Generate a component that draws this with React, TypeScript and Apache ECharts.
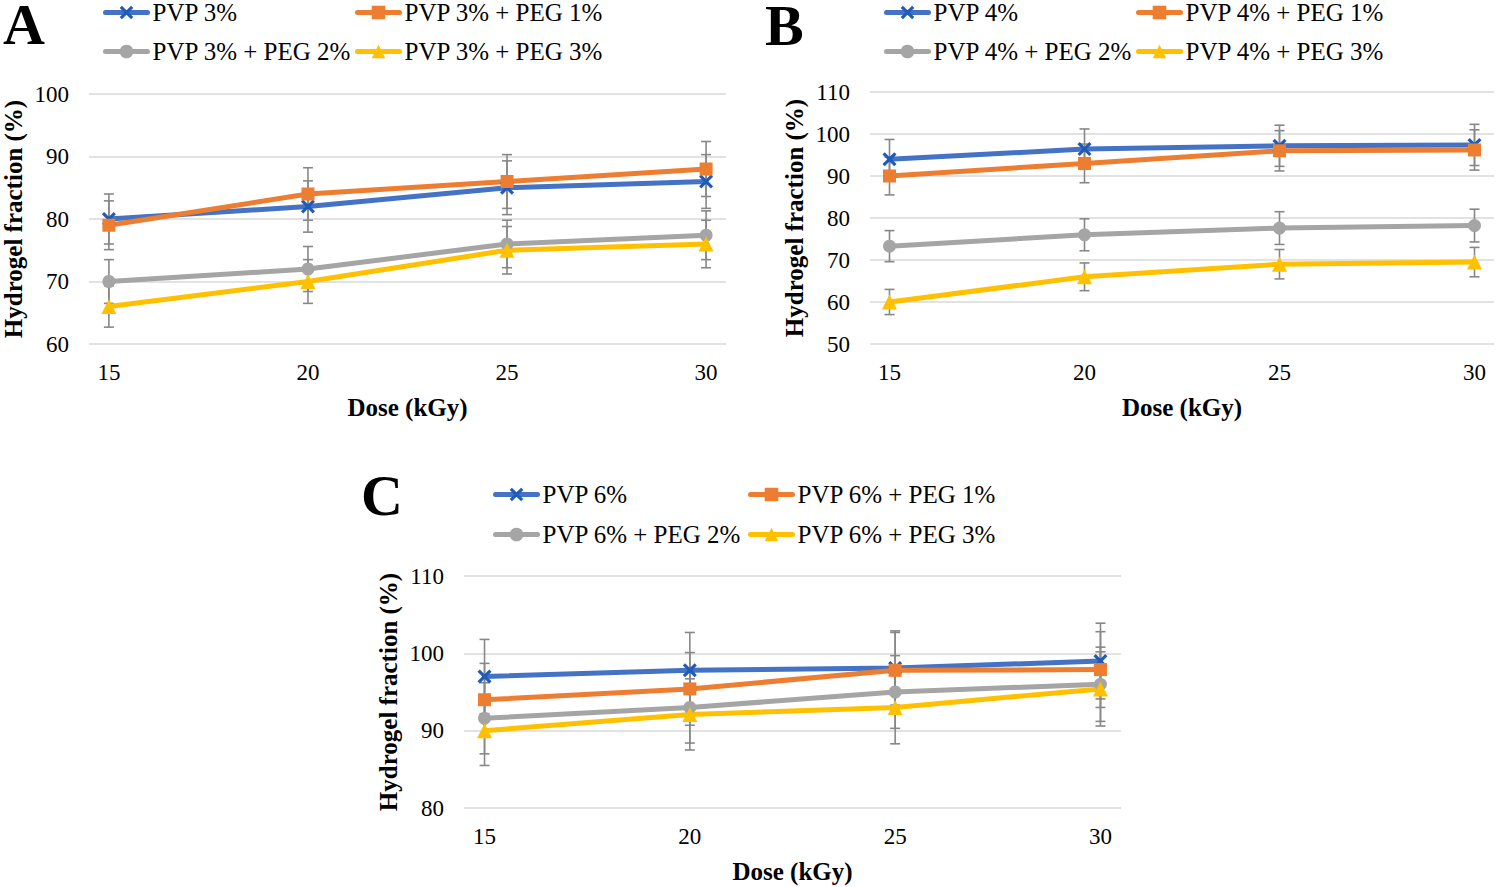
import React, { useEffect, useRef } from "react";
import * as echarts from "echarts";

const doses = [15, 20, 25, 30];
const xTicks = [15, 20, 25, 30];

// Panel A
const namesA = ["PVP 3%", "PVP 3% + PEG 1%", "PVP 3% + PEG 2%", "PVP 3% + PEG 3%"];
const a_pvp = [80, 82, 85, 86];
const a_peg1 = [79, 84, 86, 88];
const a_peg2 = [70, 72, 76, 77.4];
const a_peg3 = [66, 70, 75, 76];
const a_err_pvp = [4, 4.1, 4.3, 4.3];
const a_err_peg1 = [3.9, 4.2, 4.3, 4.4];
const a_err_peg2 = [3.5, 3.6, 3.8, 3.9];
const a_err_peg3 = [3.3, 3.5, 3.8, 3.8];

// Panel B
const namesB = ["PVP 4%", "PVP 4% + PEG 1%", "PVP 4% + PEG 2%", "PVP 4% + PEG 3%"];
const b_pvp = [94, 96.4, 97.2, 97.4];
const b_peg1 = [90, 93, 96, 96.2];
const b_peg2 = [73.3, 76, 77.6, 78.2];
const b_peg3 = [60, 66, 69, 69.5];
const b_err_pvp = [4.7, 4.8, 4.9, 4.9];
const b_err_peg1 = [4.5, 4.6, 4.8, 4.8];
const b_err_peg2 = [3.7, 3.8, 3.9, 3.9];
const b_err_peg3 = [3.0, 3.3, 3.5, 3.5];

// Panel C
const namesC = ["PVP 6%", "PVP 6% + PEG 1%", "PVP 6% + PEG 2%", "PVP 6% + PEG 3%"];
const c_pvp = [97, 97.8, 98.1, 99];
const c_peg1 = [94, 95.4, 97.8, 97.9];
const c_peg2 = [91.6, 93, 95, 96];
const c_peg3 = [90, 92.1, 93, 95.4];
const c_err_pvp = [4.8, 4.9, 4.8, 4.9];
const c_err_peg1 = [4.7, 4.7, 4.9, 4.9];
const c_err_peg2 = [4.6, 4.6, 4.7, 4.8];
const c_err_peg3 = [4.5, 4.6, 4.7, 4.8];

const panelLetters = ["A", "B", "C"];
const xTitle = "Dose (kGy)";
const yTitle = "Hydrogel fraction (%)";

const FONT = "'Liberation Serif', 'Times New Roman', serif";
const COLORS = ["#4472C4", "#ED7D31", "#A5A5A5", "#FFC000"];
const X_SYMBOL =
  "path://M0,1.6L1.6,0L5,3.4L8.4,0L10,1.6L6.6,5L10,8.4L8.4,10L5,6.6L1.6,10L0,8.4L3.4,5Z";
const SYMBOLS = [X_SYMBOL, "rect", "circle", "triangle"];
const SYMBOL_SIZES = [14, 13, 13, 15];
const SYMBOL_COLORS = ["#1F5BB8", "#ED7D31", "#A5A5A5", "#FFC000"];

export default function App() {
  const ref = useRef<HTMLDivElement>(null);

  useEffect(() => {
    document.body.style.margin = "0";
    document.body.style.overflow = "hidden";
    if (!ref.current) return;
    const chart = echarts.init(ref.current, undefined, { renderer: "svg" });

    const panels = [
      {
        names: namesA,
        vals: [a_pvp, a_peg1, a_peg2, a_peg3],
        errs: [a_err_pvp, a_err_peg1, a_err_peg2, a_err_peg3],
        grid: { left: 87.5, top: 94, width: 638.5, height: 250 },
        y: { min: 60, max: 100 },
        legendCols: [103, 355],
        legendRows: [0, 39],
        letter: { x: 3, y: 24 },
      },
      {
        names: namesB,
        vals: [b_pvp, b_peg1, b_peg2, b_peg3],
        errs: [b_err_pvp, b_err_peg1, b_err_peg2, b_err_peg3],
        grid: { left: 870, top: 92, width: 624, height: 252 },
        y: { min: 50, max: 110 },
        legendCols: [884, 1136],
        legendRows: [0, 39],
        letter: { x: 765, y: 25 },
      },
      {
        names: namesC,
        vals: [c_pvp, c_peg1, c_peg2, c_peg3],
        errs: [c_err_pvp, c_err_peg1, c_err_peg2, c_err_peg3],
        grid: { left: 464, top: 576, width: 657, height: 232 },
        y: { min: 80, max: 110 },
        legendCols: [493, 748],
        legendRows: [482, 522],
        letter: { x: 361, y: 495 },
      },
    ];

    const grids: any[] = [];
    const xAxes: any[] = [];
    const yAxes: any[] = [];
    const series: any[] = [];
    const legends: any[] = [];
    const graphics: any[] = [];

    panels.forEach((p, pi) => {
      grids.push({ ...p.grid, containLabel: false });
      xAxes.push({
        type: "value",
        gridIndex: pi,
        min: 14.5,
        max: 30.5,
        axisLine: { show: false },
        axisTick: { show: false },
        splitLine: { show: false },
        axisLabel: {
          customValues: xTicks,
          fontSize: 23,
          fontFamily: FONT,
          color: "#000",
          margin: 17,
        },
        name: xTitle,
        nameLocation: "middle",
        nameGap: 51,
        nameTextStyle: { fontSize: 25, fontWeight: "bold", fontFamily: FONT, color: "#000" },
      });
      yAxes.push({
        type: "value",
        gridIndex: pi,
        min: p.y.min,
        max: p.y.max,
        interval: 10,
        axisLine: { show: false },
        axisTick: { show: false },
        splitLine: { show: true, lineStyle: { color: "#D9D9D9", width: 1.5 } },
        axisLabel: { fontSize: 23, fontFamily: FONT, color: "#000", margin: 20 },
        name: yTitle,
        nameLocation: "middle",
        nameGap: 63,
        nameRotate: 90,
        nameTextStyle: { fontSize: 25, fontWeight: "bold", fontFamily: FONT, color: "#000" },
      });

      p.names.forEach((name, si) => {
        // error bars
        series.push({
          type: "custom",
          name: "err-" + name,
          xAxisIndex: pi,
          yAxisIndex: pi,
          z: 1,
          silent: true,
          clip: false,
          encode: { x: 0, y: [1, 2] },
          data: doses.map((d, i) => [d, p.vals[si][i] - p.errs[si][i], p.vals[si][i] + p.errs[si][i]]),
          renderItem: (params: any, api: any) => {
            const x = api.value(0);
            const lo = api.value(1);
            const hi = api.value(2);
            const top = api.coord([x, hi]);
            const bot = api.coord([x, lo]);
            const w = 5;
            const st = { stroke: "#888888", lineWidth: 1.6 };
            return {
              type: "group",
              children: [
                { type: "line", shape: { x1: top[0], y1: top[1], x2: bot[0], y2: bot[1] }, style: st },
                { type: "line", shape: { x1: top[0] - w, y1: top[1], x2: top[0] + w, y2: top[1] }, style: st },
                { type: "line", shape: { x1: bot[0] - w, y1: bot[1], x2: bot[0] + w, y2: bot[1] }, style: st },
              ],
            };
          },
        });
        series.push({
          type: "line",
          name,
          xAxisIndex: pi,
          yAxisIndex: pi,
          z: 3,
          data: doses.map((d, i) => [d, p.vals[si][i]]),
          symbol: SYMBOLS[si],
          symbolSize: SYMBOL_SIZES[si],
          showAllSymbol: true,
          lineStyle: { color: COLORS[si], width: 5, cap: "round", join: "round" },
          itemStyle: { color: SYMBOL_COLORS[si] },
          emphasis: { disabled: true },
        });
        legends.push({
          data: [name],
          left: p.legendCols[si % 2],
          top: p.legendRows[Math.floor(si / 2)],
          padding: 0,
          itemGap: 0,
          itemWidth: 42,
          itemHeight: 17,
          selectedMode: false,
          lineStyle: { width: 5, cap: "round" },
          textStyle: { fontSize: 25, fontFamily: FONT, color: "#000" },
        });
      });

      graphics.push({
        type: "text",
        x: p.letter.x,
        y: p.letter.y,
        style: {
          text: panelLetters[pi],
          fontSize: 58,
          fontWeight: "bold",
          fontFamily: FONT,
          fill: "#000",
          align: "left",
          verticalAlign: "middle",
        },
      });
    });

    chart.setOption({
      animation: false,
      backgroundColor: "#fff",
      grid: grids,
      xAxis: xAxes,
      yAxis: yAxes,
      series,
      legend: legends,
      graphic: graphics,
    });

    return () => {
      chart.dispose();
    };
  }, []);

  return <div ref={ref} style={{ width: 1496, height: 887 }} />;
}
